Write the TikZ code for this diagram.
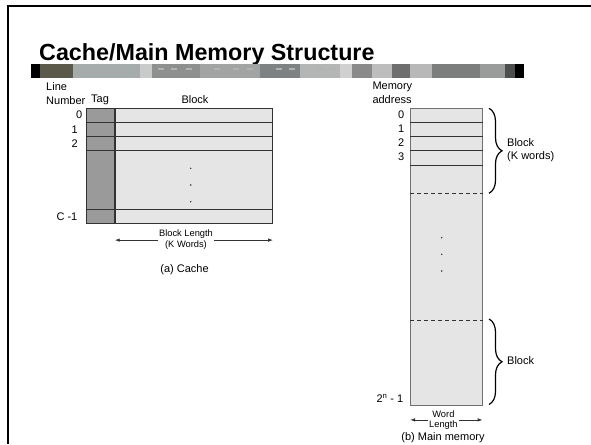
\documentclass[tikz,border=0pt]{standalone}
\usepackage{fontspec}
\setmainfont{Liberation Sans}
\usetikzlibrary{arrows.meta,positioning,calc,decorations.pathreplacing}
\definecolor{Cell}{HTML}{E5E5E5}
\definecolor{TagCol}{HTML}{9A9A9A}
\definecolor{Edge}{HTML}{333333}
\definecolor{Rim}{HTML}{707070}

\tikzset{
  cellbox/.style={draw=Edge,fill=Cell,line width=0.8pt,inner sep=0pt},
  tagbox/.style={draw=Edge,fill=TagCol,line width=0.8pt,inner sep=0pt},
  membox/.style={draw=Rim,fill=Cell,line width=0.9pt,inner sep=0pt},
  rowline/.style={draw=Edge,line width=0.8pt},
  dimtext/.style={fill=white,inner sep=1pt,align=center,font=\fontsize{9.3}{10.5}\selectfont},
  lbl/.style={font=\fontsize{11}{13}\selectfont,inner sep=0pt},
  bigbrace/.style={decorate,decoration={brace,amplitude=13pt},line width=1.2pt},
}

\begin{document}
\begin{tikzpicture}[x=1pt,y=-1pt,>={Latex[length=5pt,width=3.5pt]}]
  \useasboundingbox (0,0) rectangle (591,444);
  \clip (0,0) rectangle (591,444);
  % slide frame
  \draw[line width=2pt] (8,444) -- (8,6) -- (591,6);
  \node[anchor=base west,inner sep=0pt,font=\fontsize{23.3}{26}\bfseries] (title) at (39,60) {Cache/Main Memory Structure};
  % banner strip
  \foreach \xa/\xb/\shade in {31/40/000000,40/73/5B5A4A,73/140/A6ACAC,140/152/C9CBCB,152/200/8E9090,
      200/260/A2A4A4,260/300/7E8282,300/340/B4B6B6,340/352/D0D0D0,352/372/8A8A8A,372/392/BDBDBD,
      392/410/6E6E6E,410/432/B8B8B8,432/480/7C7E7E,480/505/9A9C9C,505/515/4E4E4E,515/524/000000} {
    \definecolor{bandshade}{HTML}{\shade}
    \fill[bandshade] (\xa,64) rectangle (\xb,77.7);
  }
  \foreach \xs in {158,171,186,214,233,247,276,289,318,330}
    \fill[black!30] (\xs,68) rectangle ++(6,1.5);

  % (a) cache
  \node[cellbox,minimum width=157.6pt,minimum height=115pt,anchor=north west] (cache) at (114.7,108.3) {};
  \node[tagbox,minimum width=28pt,minimum height=115pt,anchor=north east] (tag) at (cache.north west) {};
  \foreach \dy in {14.4,28.4,42.4,101} {
    \draw[rowline] ([yshift=-\dy pt]tag.north west) -- ([yshift=-\dy pt]cache.north east);
  }
  \foreach \y in {168.3,185,201.7} \fill[Edge] (190.7,\y) circle (0.8pt);
  \node[lbl,anchor=west] (line) at (46,86.7) {Line};
  \node[lbl,anchor=west] (number) at (46,101) {Number};
  \node[lbl] (taghead) at (100,100) {Tag};
  \node[lbl] (blockhead) at (195,100) {Block};
  \node[lbl,anchor=east] (c0) at (82.5,115) {0};
  \node[lbl,anchor=east] (c1) at (78,129.3) {1};
  \node[lbl,anchor=east] (c2) at (78,143.3) {2};
  \node[lbl,anchor=east] (cl) at (77.5,217) {C -1};
  \coordinate (bll) at ([yshift=-16pt]cache.south west);
  \coordinate (blr) at ([yshift=-16pt]cache.south east);
  \draw[<->,Edge,line width=0.8pt] (bll) -- (blr);
  \node[dimtext] (blen) at ($(bll)!0.45!(blr)+(0,-0.6)$) {Block Length\\(K Words)};
  \node[lbl] (capa) at (184.5,269.3) {(a) Cache};

  % (b) main memory
  \node[membox,minimum width=71.7pt,minimum height=296.7pt,anchor=north west] (mem) at (410,108.3) {};
  \foreach \dy in {14,28.4,42.4,56.7} {
    \draw[rowline] ([yshift=-\dy pt]mem.north west) -- ([yshift=-\dy pt]mem.north east);
  }
  \foreach \dy in {85,211.7} {
    \draw[rowline,dash pattern=on 4pt off 3pt] ([yshift=-\dy pt]mem.north west) -- ([yshift=-\dy pt]mem.north east);
  }
  \foreach \y in {237.7,254.3,271} \fill[Edge] (441.7,\y) circle (0.8pt);
  \node[lbl,anchor=west] (memory) at (372.3,86.7) {Memory};
  \node[lbl,anchor=west] (address) at (372.3,99.3) {address};
  \foreach \n/\y in {0/115,1/129,2/143,3/157}
    \node[lbl,anchor=east] (m\n) at (404.5,\y) {\n};
  \node[lbl,anchor=east] (mlast) at (403.5,398.3) {2\textsuperscript{n} - 1};
  \coordinate (wll) at ([yshift=-14pt]mem.south west);
  \coordinate (wlr) at ([yshift=-14pt]mem.south east);
  \draw[<->,Edge,line width=0.8pt] (wll) -- (wlr);
  \node[dimtext] (wlen) at ($(wll)!0.46!(wlr)$) {Word\\Length};
  \node[lbl,anchor=base] (capb) at (443,440.8) {(b) Main memory};

  % braces
  \draw[bigbrace] (489,108.3) -- (489,193.3);
  \draw[bigbrace] (489,319) -- (489,404.5);
  \node[lbl,anchor=west,align=left] (blk1) at (507,150.3) {Block\\(K words)};
  \node[lbl,anchor=west] (blk2) at (507,361) {Block};
\end{tikzpicture}
\end{document}
